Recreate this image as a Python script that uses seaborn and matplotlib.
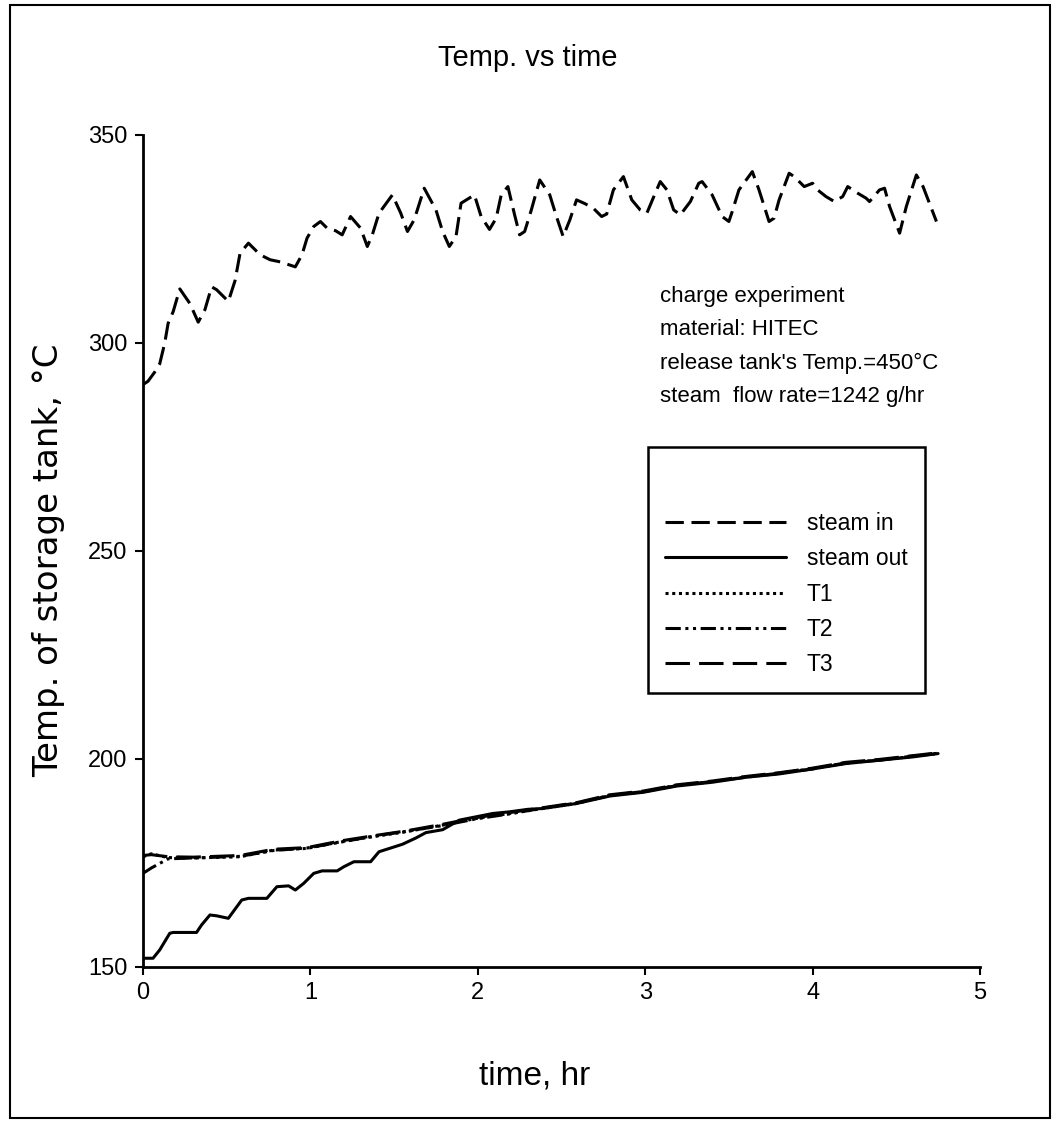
import numpy as np
import pandas as pd
import seaborn as sns
import matplotlib.pyplot as plt
from matplotlib.patches import Rectangle

# steam in (upper, oscillating)
steam_in_t = [0.00, 0.03, 0.07, 0.10, 0.13, 0.15, 0.18, 0.22, 0.28, 0.33, 0.37, 0.41, 0.44, 0.51, 0.55,
              0.58, 0.63, 0.70, 0.76, 0.82, 0.91, 0.95, 0.98, 1.02, 1.06, 1.10, 1.15, 1.19, 1.24,
              1.30, 1.34, 1.37, 1.41, 1.49, 1.54, 1.58, 1.62, 1.68, 1.75, 1.79, 1.83, 1.87, 1.90,
              1.98, 2.02, 2.07, 2.11, 2.14, 2.18, 2.22, 2.25, 2.28, 2.32, 2.37, 2.43, 2.47, 2.51,
              2.55, 2.59, 2.64, 2.69, 2.74, 2.77, 2.81, 2.87, 2.92, 2.97, 3.01, 3.06, 3.09, 3.13,
              3.17, 3.21, 3.27, 3.32, 3.34, 3.40, 3.46, 3.50, 3.52, 3.56, 3.64, 3.68, 3.74, 3.77,
              3.80, 3.86, 3.89, 3.95, 4.00, 4.03, 4.08, 4.13, 4.18, 4.21, 4.27, 4.32, 4.34, 4.40,
              4.43, 4.46, 4.52, 4.56, 4.62, 4.66, 4.74]
steam_in = [290.0, 290.8, 293.0, 295.0, 300.0, 304.7, 307.5, 313.0, 309.5, 305.0, 308.0, 313.5, 312.8, 310.0, 315.0,
            321.6, 324.0, 321.2, 320.0, 319.5, 318.3, 321.2, 325.2, 328.0, 329.2, 327.6, 327.0, 326.0, 330.4,
            327.6, 323.2, 326.0, 331.2, 335.6, 331.2, 326.8, 329.6, 337.2, 332.0, 326.8, 323.2, 325.6, 333.6,
            335.6, 330.4, 327.3, 330.0, 335.6, 337.6, 330.8, 326.0, 326.8, 332.0, 339.2, 335.6, 330.4, 325.6,
            329.6, 334.4, 333.5, 332.4, 330.4, 331.0, 336.8, 340.0, 334.4, 332.0, 331.2, 336.0, 338.8, 336.8,
            332.0, 330.8, 334.0, 338.4, 338.8, 335.6, 330.4, 329.2, 331.6, 336.8, 341.2, 336.8, 329.2, 330.0,
            334.4, 340.8, 340.0, 337.6, 338.4, 336.8, 335.2, 334.0, 335.2, 337.6, 336.0, 334.8, 334.0, 336.8,
            337.2, 332.8, 326.4, 332.8, 340.4, 337.6, 329.2]

# steam out (solid, starts at ~152)
steam_out_t = [0.00, 0.06, 0.10, 0.16, 0.18, 0.32, 0.35, 0.40, 0.44, 0.51, 0.59, 0.63, 0.74, 0.80,
               0.87, 0.91, 0.96, 1.02, 1.07, 1.16, 1.20, 1.26, 1.36, 1.41, 1.55, 1.63, 1.69, 1.79,
               1.89, 1.99, 2.09, 2.19, 2.30, 2.39, 2.59, 2.79, 2.99, 3.19, 3.40, 3.60, 3.80, 4.00,
               4.20, 4.40, 4.60, 4.75]
steam_out = [152.1, 152.1, 154.1, 158.1, 158.3, 158.3, 160.1, 162.5, 162.3, 161.7, 166.1, 166.5, 166.5, 169.3,
             169.5, 168.5, 170.1, 172.5, 173.1, 173.1, 174.1, 175.3, 175.3, 177.7, 179.5, 181.0, 182.3, 183.0,
             185.3, 186.1, 186.9, 187.3, 187.9, 188.1, 189.3, 191.1, 192.0, 193.5, 194.4, 195.6, 196.4, 197.6,
             198.9, 199.7, 200.5, 201.3]

# tank thermocouples
tank_t = [0.00, 0.05, 0.15, 0.30, 0.58, 0.78, 0.98, 1.18, 1.37, 1.57, 1.79, 1.99, 2.19, 2.39,
          2.59, 2.79, 2.99, 3.19, 3.40, 3.60, 3.80, 4.00, 4.20, 4.40, 4.60, 4.75]
t1 = [176.5, 177.2, 176.3, 176.2, 176.5, 178.1, 178.5, 180.1, 181.3, 182.5, 184.1, 185.7, 186.9, 188.1,
      189.3, 191.3, 192.1, 193.7, 194.5, 195.7, 196.5, 197.7, 199.0, 199.8, 200.6, 201.4]
t2 = [172.5, 173.8, 176.0, 176.2, 176.6, 178.0, 178.6, 180.0, 181.4, 182.6, 184.0, 185.6, 186.8, 188.2,
      189.4, 191.2, 192.2, 193.6, 194.6, 195.6, 196.6, 197.6, 199.1, 199.7, 200.7, 201.3]
t3 = [176.8, 177.0, 176.5, 176.4, 176.8, 178.3, 178.7, 180.3, 181.5, 182.7, 184.3, 185.9, 187.1, 188.3,
      189.5, 191.4, 192.3, 193.8, 194.7, 195.8, 196.7, 197.8, 199.2, 199.9, 200.8, 201.5]

sns.set_theme(style='white')
plt.rcParams['font.family'] = ['Liberation Sans Narrow', 'Liberation Sans', 'DejaVu Sans']
plt.rcParams['text.color'] = 'black'
plt.rcParams['axes.labelcolor'] = 'black'
plt.rcParams['xtick.color'] = 'black'
plt.rcParams['ytick.color'] = 'black'

fig = plt.figure(figsize=(10.56, 11.24), dpi=100)
ax = fig.add_axes([0.1354, 0.1397, 0.7926, 0.7402])

series = [
    (steam_in_t, steam_in, 'steam in', (6, 2.5)),
    (steam_out_t, steam_out, 'steam out', None),
    (tank_t, t1, 'T1', (1, 1.2)),
    (tank_t, t2, 'T2', (5, 1.5, 1, 1.5, 1, 1.5)),
    (tank_t, t3, 'T3', (8, 3)),
]
for xs, ys, name, dash in series:
    df = pd.DataFrame({'time': xs, 'temp': ys})
    sns.lineplot(data=df, x='time', y='temp', ax=ax, color='black', lw=2.2,
                 sort=False, label=name)
    if dash is not None:
        ax.lines[-1].set_dashes(dash)

ax.set_xlim(0, 5)
ax.set_ylim(150, 350)
ax.set_xticks([0, 1, 2, 3, 4, 5])
ax.set_yticks([150, 200, 250, 300, 350])
ax.tick_params(axis='both', direction='out', length=6, width=1.5, color='black',
               labelsize=17, pad=5, left=True, bottom=True)
for s in ['top', 'right']:
    ax.spines[s].set_visible(False)
for s in ['left', 'bottom']:
    ax.spines[s].set_color('black')
    ax.spines[s].set_linewidth(2)

ax.set_xlabel('time, hr', fontsize=24)
ax.xaxis.set_label_coords(0.468, -0.112)
ax.set_ylabel('Temp. of storage tank, °C', fontsize=24.5, family=['DejaVu Sans'])
ax.yaxis.set_label_coords(-0.093, 0.489)

fig.text(0.5, 0.948, 'Temp. vs time', ha='center', va='center', fontsize=21)

ax.text(0.618, 0.818,
        "charge experiment\nmaterial: HITEC\nrelease tank's Temp.=450°C\nsteam  flow rate=1242 g/hr",
        transform=ax.transAxes, ha='left', va='top', fontsize=16, linespacing=1.75)

leg = ax.legend(loc='upper left', bbox_to_anchor=(0.603, 0.625), borderaxespad=0, frameon=True,
                fancybox=False, edgecolor='black', framealpha=1, fontsize=16.5, handlelength=5.3,
                handletextpad=0.9, labelspacing=0.53, borderpad=0.75, title=' ', title_fontsize=28)
leg.get_frame().set_linewidth(1.8)

fig.add_artist(Rectangle((0.0095, 0.0053), 0.985, 0.990, transform=fig.transFigure,
                         fill=False, edgecolor='black', lw=1.5))

fig.savefig('out.png', dpi=100)
